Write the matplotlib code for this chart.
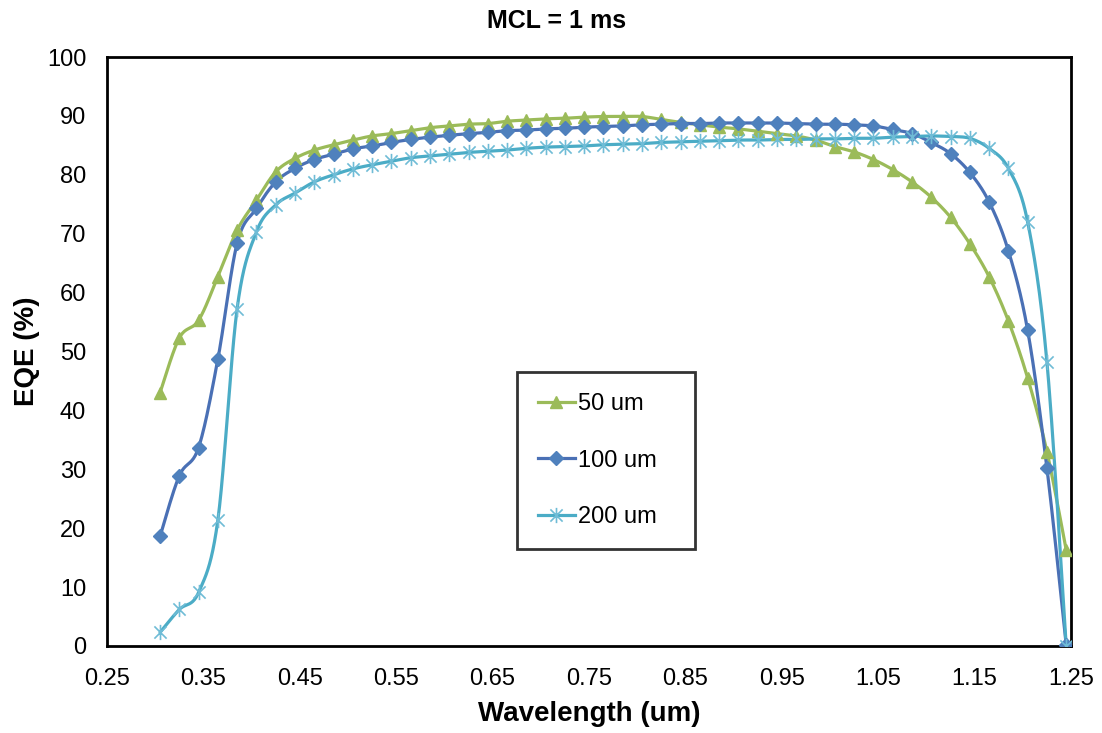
import numpy as np
import matplotlib
matplotlib.use('Agg')
import matplotlib.pyplot as plt
from matplotlib.path import Path

plt.rcParams['font.family'] = ['Liberation Sans', 'DejaVu Sans']

# wavelength grid (um) and EQE (%) for three cell thicknesses
wavelength = [0.305, 0.325, 0.345, 0.365, 0.385, 0.405, 0.425, 0.445, 0.465, 0.485,
              0.505, 0.525, 0.545, 0.565, 0.585, 0.605, 0.625, 0.645, 0.665, 0.685,
              0.705, 0.725, 0.745, 0.765, 0.785, 0.805, 0.825, 0.845, 0.865, 0.885,
              0.905, 0.925, 0.945, 0.965, 0.985, 1.005, 1.025, 1.045, 1.065, 1.085,
              1.105, 1.125, 1.145, 1.165, 1.185, 1.205, 1.225, 1.245]

eqe_50 = [43.0, 52.3, 55.3, 62.7, 70.6, 75.7, 80.5, 82.8, 84.2, 85.1,
          85.9, 86.6, 87.0, 87.5, 88.0, 88.3, 88.6, 88.7, 89.1, 89.3,
          89.5, 89.6, 89.8, 89.9, 89.9, 89.9, 89.4, 88.9, 88.5, 88.1,
          87.8, 87.4, 87.0, 86.6, 85.9, 84.8, 83.9, 82.6, 80.9, 78.8,
          76.2, 72.8, 68.3, 62.7, 55.2, 45.5, 33.0, 16.3]

eqe_100 = [18.6, 28.9, 33.7, 48.7, 68.4, 74.3, 78.8, 81.1, 82.6, 83.5,
           84.4, 84.9, 85.5, 86.0, 86.4, 86.7, 87.0, 87.2, 87.5, 87.6,
           87.8, 87.9, 88.1, 88.2, 88.3, 88.5, 88.6, 88.7, 88.7, 88.8,
           88.8, 88.8, 88.8, 88.7, 88.6, 88.6, 88.5, 88.3, 87.7, 87.0,
           85.5, 83.6, 80.4, 75.4, 67.1, 53.6, 30.2, 0.2]

eqe_200 = [2.3, 6.2, 9.1, 21.4, 57.3, 70.3, 74.9, 76.9, 78.8, 80.0,
           81.0, 81.7, 82.3, 82.9, 83.2, 83.5, 83.8, 84.0, 84.2, 84.5,
           84.7, 84.8, 84.9, 85.1, 85.2, 85.3, 85.5, 85.6, 85.7, 85.8,
           85.9, 85.9, 86.0, 86.0, 86.1, 86.1, 86.2, 86.2, 86.4, 86.5,
           86.6, 86.5, 86.2, 84.5, 81.1, 72.0, 48.2, 0.0]

labels = ['50 um', '100 um', '200 um']
GREEN = '#9BBB59'
BLUE_LINE = '#4A70B5'
BLUE = '#4F81BD'
CYAN = '#4BACC6'
CYAN_MK = '#6FBCD6'


def smooth(x, y, n=24):
    # Excel-style smoothed line: cubic Bezier through every point
    x = np.asarray(x, float)
    y = np.asarray(y, float)
    px = np.concatenate([[x[0]], x, [x[-1]]])
    py = np.concatenate([[y[0]], y, [y[-1]]])
    t = np.linspace(0, 1, n)[:, None]
    out = []
    for i in range(len(x) - 1):
        p0 = np.array([px[i], py[i]])
        p1 = np.array([px[i + 1], py[i + 1]])
        p2 = np.array([px[i + 2], py[i + 2]])
        p3 = np.array([px[i + 3], py[i + 3]])
        c1 = p1 + (p2 - p0) / 6
        c2 = p2 - (p3 - p1) / 6
        seg = ((1 - t) ** 3) * p1 + 3 * ((1 - t) ** 2) * t * c1 \
            + 3 * (1 - t) * t ** 2 * c2 + t ** 3 * p2
        out.append(seg if i == 0 else seg[1:])
    s = np.vstack(out)
    return s[:, 0], s[:, 1]


# asterisk marker: vertical bar plus an X
ASTERISK = Path(
    [(0, -1), (0, 1), (-0.8, -0.8), (0.8, 0.8), (-0.8, 0.8), (0.8, -0.8)],
    [Path.MOVETO, Path.LINETO, Path.MOVETO, Path.LINETO, Path.MOVETO, Path.LINETO],
)

fig = plt.figure(figsize=(11.02, 7.33), dpi=100, facecolor='white')
ax = fig.add_axes([0.0971, 0.1187, 0.8748, 0.8035])

series = [
    (eqe_50, GREEN, '^', 9, dict(markerfacecolor=GREEN, markeredgecolor=GREEN)),
    (eqe_100, BLUE_LINE, 'D', 7.5, dict(markerfacecolor=BLUE, markeredgecolor=BLUE)),
    (eqe_200, CYAN, ASTERISK, 11, dict(markerfacecolor='none', markeredgecolor=CYAN_MK,
                                       markeredgewidth=1.2)),
]

handles = []
for (vals, lc, mk, ms, mkw), lab in zip(series, labels):
    sx, sy = smooth(wavelength, vals)
    ax.plot(sx, sy, color=lc, lw=2.3, solid_capstyle='round', zorder=2)
    ax.plot(wavelength, vals, ls='none', marker=mk, markersize=ms, zorder=3, **mkw)
    h, = ax.plot([], [], color=lc, lw=2.3, marker=mk, markersize=ms, **mkw)
    handles.append(h)

ax.set_xlim(0.25, 1.25)
ax.set_ylim(0, 100)
xt = np.arange(0.25, 1.251, 0.1)
ax.set_xticks(xt)
ax.set_xticklabels([f'{v:.2f}' for v in xt])
ax.set_yticks(np.arange(0, 101, 10))
ax.tick_params(axis='both', length=0, labelsize=17)
ax.tick_params(axis='x', pad=16)
ax.tick_params(axis='y', pad=15)
for sp in ax.spines.values():
    sp.set_linewidth(2)
    sp.set_color('black')

ax.set_xlabel('Wavelength (um)', fontsize=20, fontweight='bold')
ax.xaxis.set_label_coords(0.5, -0.093)
ax.set_ylabel('EQE (%)', fontsize=20, fontweight='bold')
ax.yaxis.set_label_coords(-0.069, 0.5)

fig.text(0.5054, 0.971, 'MCL = 1 ms', fontsize=18, fontweight='bold', ha='center', va='center')

# legend box stretched to a fixed width inside the plot area
leg = ax.legend(handles, labels, loc='upper left', bbox_to_anchor=(0.425, 0.173, 0.185, 0.292),
                mode='expand', borderaxespad=0, fontsize=17, frameon=True, fancybox=False,
                handlelength=1.55, handletextpad=0.15, labelspacing=1.45,
                borderpad=0.9)
leg.get_frame().set_edgecolor('black')
leg.get_frame().set_linewidth(2)

fig.savefig('out.png', dpi=100, facecolor='white')
